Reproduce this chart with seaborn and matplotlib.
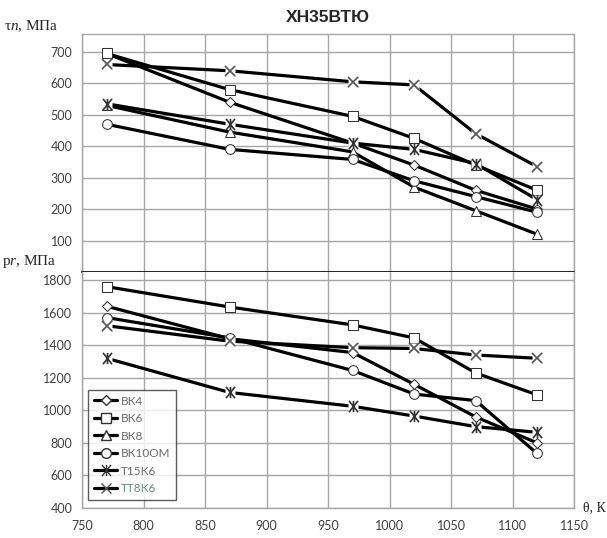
import numpy as np
import pandas as pd
import matplotlib
matplotlib.use("Agg")
import matplotlib.pyplot as plt
from matplotlib.path import Path
from matplotlib.lines import Line2D
import seaborn as sns

# Temperature, K
temps = [770, 870, 970, 1020, 1070, 1120]

# Contact shear stress, MPa (upper panel)
tau_vk4 = [695, 540, 410, 340, 260, 200]
tau_vk6 = [695, 580, 495, 425, 340, 260]
tau_vk8 = [530, 445, 382, 270, 195, 120]
tau_vk10om = [470, 390, 358, 290, 240, 190]
tau_t15k6 = [535, 470, 410, 390, 345, 230]
tau_tt8k6 = [660, 640, 605, 595, 440, 335]

# Contact normal pressure, MPa (lower panel)
p_vk4 = [1640, 1440, 1355, 1160, 960, 800]
p_vk6 = [1760, 1635, 1525, 1445, 1230, 1095]
p_vk10om = [1570, 1445, 1245, 1100, 1060, 735]
p_t15k6 = [1320, 1110, 1025, 965, 900, 865]
p_tt8k6 = [1520, 1425, 1385, 1380, 1340, 1320]

names = ["ВК4", "ВК6", "ВК8", "ВК10ОМ", "Т15К6", "ТТ8К6"]
tau_series = [tau_vk4, tau_vk6, tau_vk8, tau_vk10om, tau_t15k6, tau_tt8k6]
p_series = {"ВК4": p_vk4, "ВК6": p_vk6, "ВК10ОМ": p_vk10om,
            "Т15К6": p_t15k6, "ТТ8К6": p_tt8k6}

x_ticks = [750, 800, 850, 900, 950, 1000, 1050, 1100, 1150]
tau_ticks = [100, 200, 300, 400, 500, 600, 700]
p_ticks = [400, 600, 800, 1000, 1200, 1400, 1600, 1800]

sns.set_style("white")
plt.rcParams["font.family"] = ["Lato", "DejaVu Sans"]
plt.rcParams["mathtext.fontset"] = "custom"
plt.rcParams["mathtext.rm"] = "Liberation Serif"
plt.rcParams["mathtext.it"] = "Liberation Serif:italic"

# "Ж"-like marker: a cross with a vertical stroke through it
zh_path = Path(
    [(0, -1), (0, 1), (-0.8, -1), (0.8, 1), (-0.8, 1), (0.8, -1)],
    [Path.MOVETO, Path.LINETO, Path.MOVETO, Path.LINETO, Path.MOVETO, Path.LINETO],
)

styles = {
    "ВК4": dict(marker="D", markersize=5.0, markerfacecolor="white", markeredgecolor="#333333"),
    "ВК6": dict(marker="s", markersize=7.0, markerfacecolor="white", markeredgecolor="#333333"),
    "ВК8": dict(marker="^", markersize=6.5, markerfacecolor="white", markeredgecolor="#333333"),
    "ВК10ОМ": dict(marker="o", markersize=7.0, markerfacecolor="white", markeredgecolor="#333333"),
    "Т15К6": dict(marker=zh_path, markersize=8.0, markerfacecolor="none", markeredgecolor="#333333"),
    "ТТ8К6": dict(marker="x", markersize=7.5, markerfacecolor="none", markeredgecolor="#555555"),
}
open_markers = {"Т15К6", "ТТ8К6"}

W, H = 607, 538
fig = plt.figure(figsize=(W / 100, H / 100), dpi=100)
left, right = 82, 574
top_y, mid_y, bot_y = 34, 272, 508
ax_top = fig.add_axes([left / W, 1 - mid_y / H, (right - left) / W, (mid_y - top_y) / H])
ax_bot = fig.add_axes([left / W, 1 - bot_y / H, (right - left) / W, (bot_y - mid_y) / H])

grid_c = "#a6a6a6"
tick_c = "#404040"


def draw(ax, name, values):
    st = styles[name]
    sns.lineplot(x=temps, y=values, ax=ax, color="black", lw=2.3,
                 label=name, zorder=3, **st)
    if name in open_markers:
        # white backing so the line stops short of the open marker
        ax.plot(temps, values, ls="none", marker="s", markersize=6.5,
                markerfacecolor="white", markeredgecolor="none", zorder=3.5)
        ax.plot(temps, values, ls="none", zorder=4, markeredgewidth=1.2, **st)


for name, vals in zip(names, tau_series):
    draw(ax_top, name, vals)
for name, vals in p_series.items():
    draw(ax_bot, name, vals)

for ax in (ax_top, ax_bot):
    ax.set_xlim(750, 1150)
    ax.set_xticks(x_ticks)
    ax.grid(True, color=grid_c, lw=1.0)
    ax.set_axisbelow(True)
    for s in ax.spines.values():
        s.set_color(grid_c)
        s.set_linewidth(1.0)
    ax.tick_params(axis="y", length=4, color=grid_c, labelcolor=tick_c,
                   labelsize=9, pad=3)
    ax.set_xlabel("")
    ax.set_ylabel("")

ax_top.set_ylim(0, 757)
ax_top.set_yticks(tau_ticks)
ax_top.tick_params(axis="x", length=0, labelbottom=False)
ax_top.spines["bottom"].set_color("black")
ax_top.spines["bottom"].set_linewidth(1.2)
ax_top.spines["bottom"].set_zorder(5)
ax_top.get_legend().remove()

ax_bot.set_ylim(400, 1850)
ax_bot.set_yticks(p_ticks)
ax_bot.spines["top"].set_visible(False)
ax_bot.tick_params(axis="x", length=4, color=grid_c, labelcolor=tick_c,
                   labelsize=9, pad=5)
ax_bot.get_legend().remove()

handles = []
for name in names:
    st = styles[name]
    handles.append(Line2D([], [], color="black", lw=2.3, label=name, **st))
leg = ax_bot.legend(handles=handles, loc="lower left",
                    bbox_to_anchor=(0.012, 0.034), borderaxespad=0,
                    frameon=True, fancybox=False, fontsize=8.5,
                    handlelength=2.0, handletextpad=0.3, labelspacing=0.55,
                    borderpad=0.5)
leg.get_frame().set_edgecolor("#333333")
leg.get_frame().set_linewidth(1.0)
for t in leg.get_texts():
    t.set_color("#6b6b6b")
leg.get_texts()[-1].set_color("#5f8f7a")

fig.text((left + right) / 2 / W, 1 - 18 / H, "ХН35ВТЮ", ha="center", va="center",
         fontsize=12.5, fontweight="bold", family="Liberation Sans")
fig.text(4 / W, 1 - 26 / H, r"$\mathrm{τ}\mathit{n}$, МПа", ha="left", va="center",
         fontsize=11, family="Liberation Serif")
fig.text(2 / W, 1 - 262 / H, r"$\mathrm{p}\mathit{r}$, МПа", ha="left", va="center",
         fontsize=11, family="Liberation Serif")
fig.text(583 / W, 1 - 508 / H, "θ, К", ha="left", va="center",
         fontsize=10, family="Liberation Serif")

fig.savefig("out.png", dpi=100)
